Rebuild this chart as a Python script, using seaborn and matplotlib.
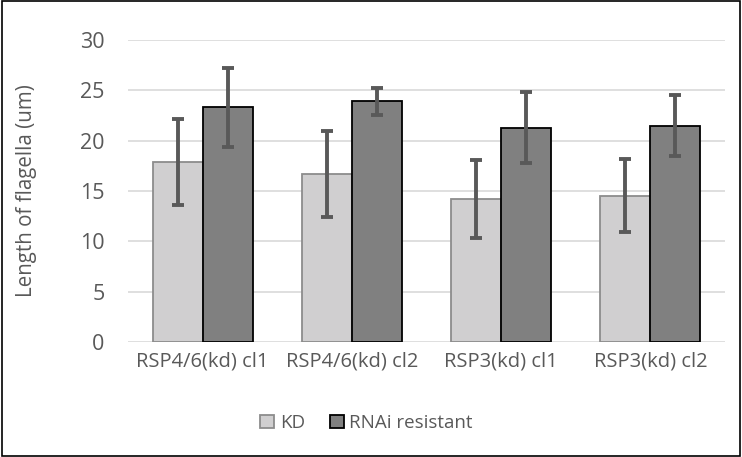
import numpy as np
import pandas as pd
import matplotlib
matplotlib.use("Agg")
import matplotlib.pyplot as plt
import seaborn as sns
from matplotlib.patches import Rectangle

# дані
categories = ["RSP4/6(kd) cl1", "RSP4/6(kd) cl2", "RSP3(kd) cl1", "RSP3(kd) cl2"]
series = ["KD", "RNAi resistant"]
kd_mean = [17.9, 16.7, 14.2, 14.55]
kd_err = [4.25, 4.3, 3.85, 3.6]
rnai_mean = [23.3, 23.9, 21.3, 21.5]
rnai_err = [3.95, 1.35, 3.5, 3.0]
yticks = [0, 5, 10, 15, 20, 25, 30]

df = pd.DataFrame({
    "cat": categories * 2,
    "series": [series[0]] * 4 + [series[1]] * 4,
    "value": kd_mean + rnai_mean,
    "err": kd_err + rnai_err,
})

sns.set_style("white")
plt.rcParams["font.family"] = ["Open Sans", "DejaVu Sans"]
txt = "#595959"

fig = plt.figure(figsize=(7.42, 4.57), dpi=100)
ax = fig.add_axes([0.1725, 0.2516, 0.8045, 0.6609])

sns.barplot(data=df, x="cat", y="value", hue="series", hue_order=series,
            palette=["#d0cfd0", "#808080"], width=0.67, errorbar=None,
            ax=ax, legend=True, zorder=3)

edges = ["#8c8c8c", "#000000"]
# контейнери відповідають серіям
bar_conts = list(ax.containers)
for i, cont in enumerate(bar_conts):
    sub = df[df.series == series[i]]
    xs = []
    for p in cont.patches:
        p.set_edgecolor(edges[i])
        p.set_linewidth(1.3)
        xs.append(p.get_x() + p.get_width() / 2)
    ax.errorbar(xs, sub["value"], yerr=sub["err"], fmt="none",
                ecolor="#595959", elinewidth=2.8, capsize=4.3, capthick=2.8, zorder=5)

ax.set_ylim(0, 30)
ax.set_xlim(-0.5, 3.5)
ax.set_yticks(yticks)
ax.yaxis.grid(True, color="#d9d9d9", linewidth=1.2, zorder=0)
ax.set_axisbelow(True)
for s in ax.spines.values():
    s.set_visible(False)
ax.tick_params(axis="y", length=0, labelsize=15.5, colors=txt, pad=17)
ax.tick_params(axis="x", length=0, labelsize=14.5, colors=txt, pad=7)
ax.set_xlabel("")
ax.set_ylabel("Length of flagella (um)", fontsize=14.8, color=txt)
ax.yaxis.set_label_coords(-0.152, 0.5)

handles, labels = ax.get_legend_handles_labels()
handles, labels = handles[:2], labels[:2]
for h, e in zip(handles, edges):
    h.set_edgecolor(e)
    h.set_linewidth(1.3)
ax.get_legend().remove()
fig.legend(handles, labels, loc="center", bbox_to_anchor=(0.494, 1 - 423 / 457),
           ncol=2, frameon=False, fontsize=13.5, labelcolor=txt,
           handlelength=0.75, handleheight=0.75, handletextpad=0.3, columnspacing=1.3)

fig.patches.append(Rectangle((0.003, 0.003), 0.994, 0.994, transform=fig.transFigure,
                             fill=False, edgecolor="black", linewidth=1.2))

fig.savefig("out.png", dpi=100)
